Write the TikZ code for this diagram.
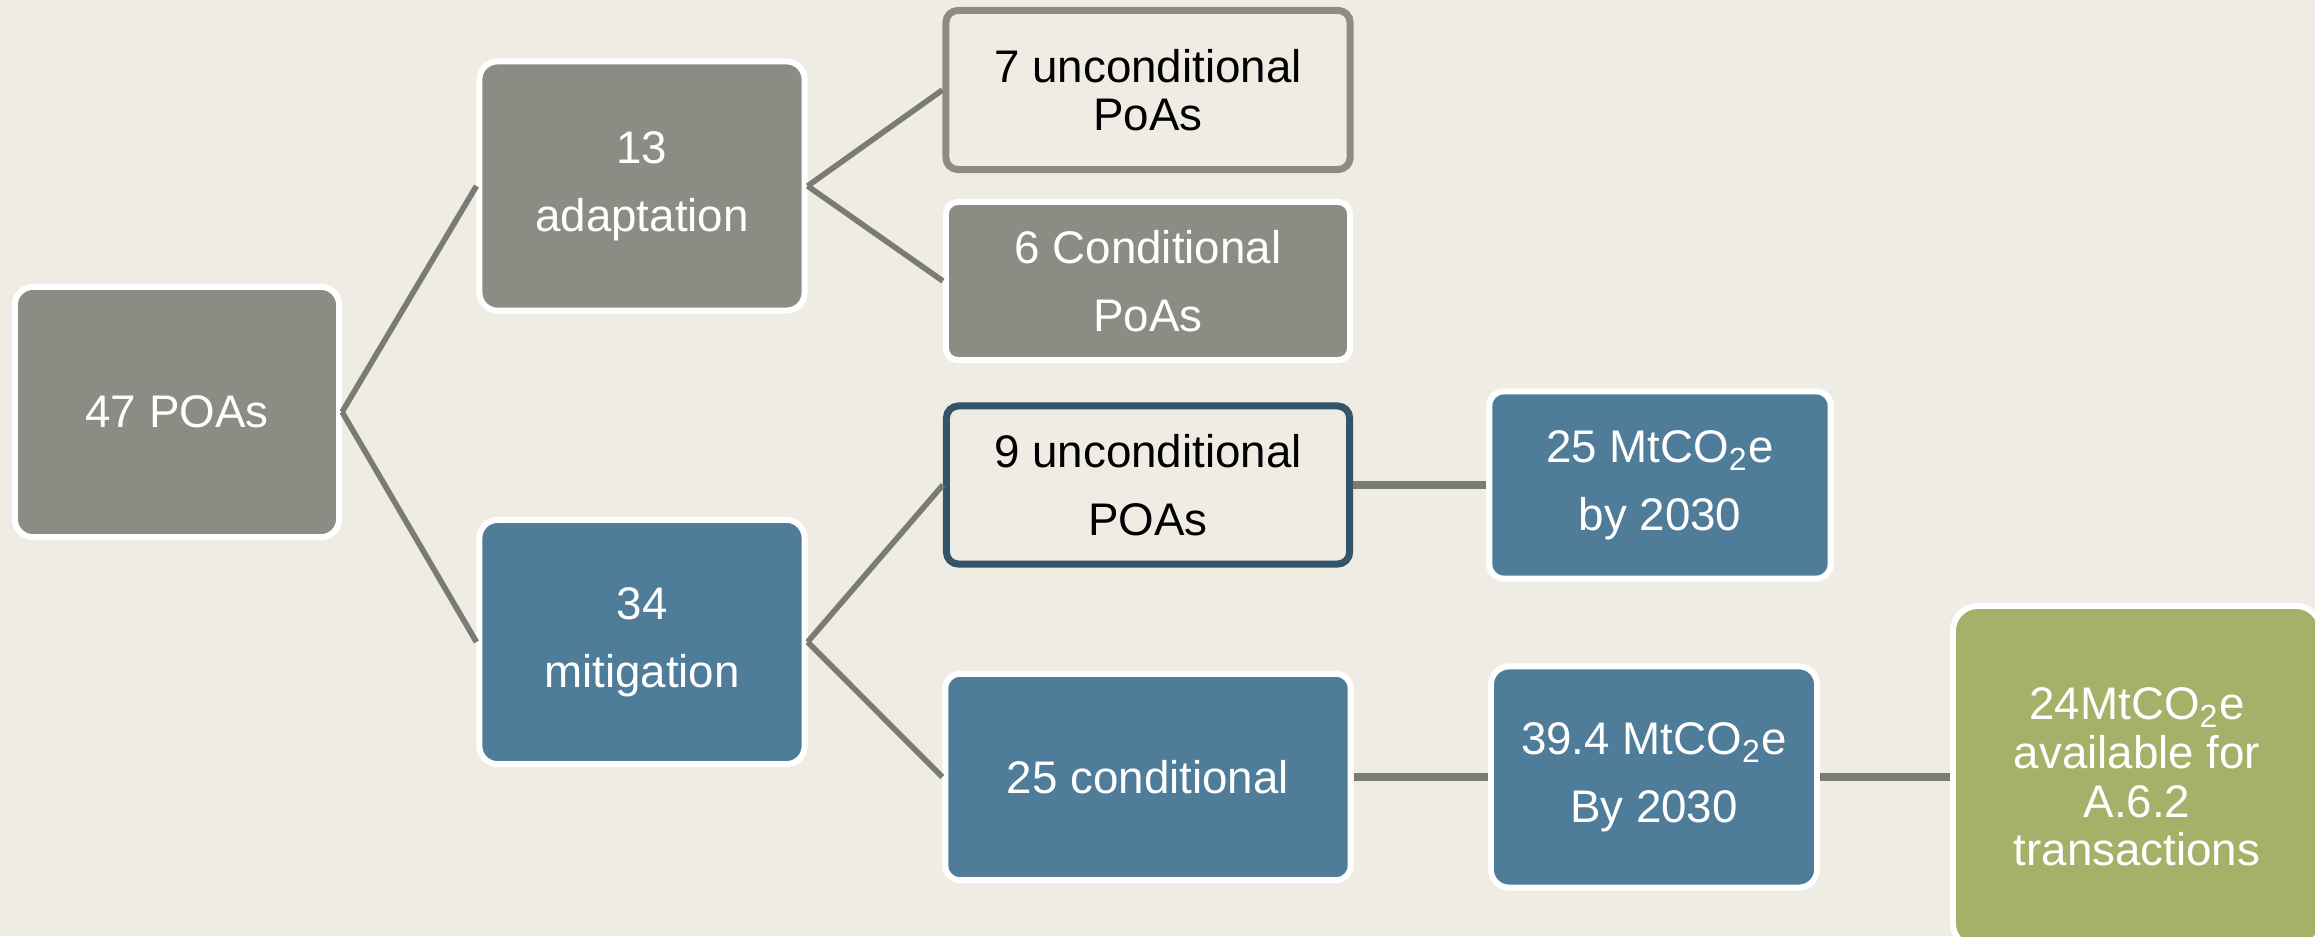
\documentclass[tikz,border=0pt]{standalone}
\usepackage{fontspec}
\setmainfont{Liberation Sans}
\usepackage{xcolor}
\usetikzlibrary{positioning, calc}

\definecolor{bgcol}{RGB}{239,236,228}
\definecolor{boxgray}{RGB}{140,140,133}
\definecolor{boxblue}{RGB}{78,124,153}
\definecolor{darkblue}{RGB}{52,84,106}
\definecolor{boxgreen}{RGB}{165,177,104}
\definecolor{linkgray}{RGB}{122,123,115}

\tikzset{
	pbox/.style={rectangle, rounded corners=0.18cm, draw=white, line width=1.7pt,
		align=center, inner sep=0pt, text=white,
		font=\fontsize{13pt}{19.3pt}\selectfont},
	graybox/.style={pbox, fill=boxgray},
	bluebox/.style={pbox, fill=boxblue},
	greenbox/.style={pbox, fill=boxgreen, font=\fontsize{13pt}{13.8pt}\selectfont},
	openbox/.style={pbox, fill=bgcol, text=black, line width=2pt, rounded corners=0.12cm},
	link/.style={draw=linkgray, line width=1.6pt},
	hlink/.style={draw=linkgray, line width=2.1pt}
}

\begin{document}
\begin{tikzpicture}[x=0.01cm, y=-0.01cm]
		
		%Canvas
		\clip (0,0) rectangle (2315,936);
		\fill[bgcol] (0,0) rectangle (2315,936);
		
		%Total
		\node[graybox, minimum width=3.24cm, minimum height=2.50cm] (total) at (177,412) {47 POAs};
		
		%First split
		\node[graybox, minimum width=3.25cm, minimum height=2.49cm] (adapt) at (642,186) {13\\adaptation};
		\node[bluebox, minimum width=3.25cm, minimum height=2.44cm] (mitig) at (642,642) {34\\mitigation};
		
		%Adaptation branch
		\node[openbox, draw=boxgray, minimum width=4.04cm, minimum height=1.59cm,
		font=\fontsize{13pt}{13.8pt}\selectfont] (unconda) at (1148,90) {7 unconditional\\PoAs};
		\node[graybox, minimum width=4.04cm, minimum height=1.58cm, rounded corners=0.12cm] (conda) at (1148,281) {6 Conditional\\PoAs};
		
		%Mitigation branch
		\node[openbox, draw=darkblue, minimum width=4.03cm, minimum height=1.58cm] (uncondm) at (1148,485) {9 unconditional\\POAs};
		\node[bluebox, minimum width=4.05cm, minimum height=2.06cm, rounded corners=0.14cm] (condm) at (1148,777) {25 conditional};
		
		%Emissions
		\node[bluebox, minimum width=3.41cm, minimum height=1.87cm, rounded corners=0.14cm] (emisu) at (1660,485) {25 MtCO\textsubscript{2}e\\by 2030};
		\node[bluebox, minimum width=3.26cm, minimum height=2.21cm] (emisc) at (1654,777) {39.4 MtCO\textsubscript{2}e\\By 2030};
		\node[greenbox, minimum width=3.68cm, minimum height=3.42cm, rounded corners=0.25cm] (trade) at (2137,777) {24MtCO\textsubscript{2}e\\available for\\A.6.2\\transactions};
		
		%Connectors
		\draw[link] (total.east) -- (adapt.west);
		\draw[link] (total.east) -- (mitig.west);
		\draw[link] (adapt.east) -- (unconda.west);
		\draw[link] (adapt.east) -- (conda.west);
		\draw[link] (mitig.east) -- (uncondm.west);
		\draw[link] (mitig.east) -- (condm.west);
		\draw[hlink] (uncondm.east) -- (emisu.west);
		\draw[hlink] (condm.east) -- (emisc.west);
		\draw[hlink] (emisc.east) -- (trade.west);
		
\end{tikzpicture}
\end{document}
